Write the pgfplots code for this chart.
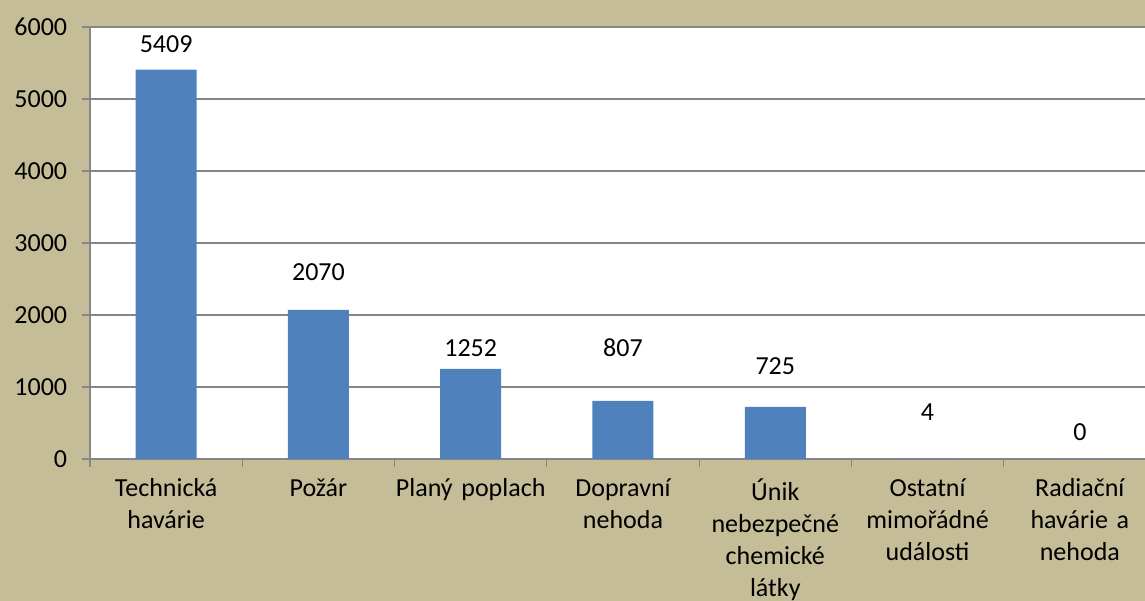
\documentclass[border=0pt]{standalone}
\usepackage{pgfplots}
\pgfplotsset{compat=1.18}
\usepackage{fontspec}
\setmainfont{Carlito}
\definecolor{bgtan}{RGB}{196,189,151}
\definecolor{barblue}{RGB}{79,129,189}
\definecolor{gridgray}{RGB}{134,134,134}
\begin{document}
\fontsize{26}{32}\selectfont
\begin{tikzpicture}
\fill[bgtan] (0,0) rectangle (1145pt,601pt);
\useasboundingbox (0,0) rectangle (1145pt,601pt);
\begin{axis}[
  at={(90pt,142pt)}, anchor=south west,
  scale only axis, width=1066pt, height=432pt,
  xmin=-0.5, xmax=6.5, ymin=0, ymax=6000,
  axis background/.style={fill=white},
  axis line style={draw=gridgray, line width=1.2pt},
  ymajorgrids, grid style={draw=gridgray, line width=1.2pt},
  ytick={0,1000,...,6000},
  xtick={0,...,6},
  xticklabels={{Technická\\havárie},{Požár},{Planý poplach},{Dopravní\\nehoda},{Únik\\nebezpečné\\chemické\\látky},{Ostatní\\mimořádné\\události},{Radiační\\havárie a\\nehoda}},
  minor xtick={-0.5,0.5,...,6.5},
  tick align=outside, xtick pos=bottom, ytick pos=left,
  major tick length=8pt, minor tick length=8pt,
  tick style={draw=gridgray, line width=1.2pt},
  major x tick style={draw=none},
  ticklabel style={font=\fontsize{26}{32}\selectfont, text=black},
  xticklabel style={align=center, text width=160pt, anchor=north, yshift=-3pt},
  yticklabel style={xshift=-6pt},
  /pgf/number format/assume math mode=true,
  /pgf/number format/1000 sep={},
  scaled y ticks=false,
]
\addplot[ybar, bar width=61pt, fill=barblue, draw=none] table {
x y
0 5409
1 2070
2 1252
3 807
4 725
5 4
6 0
};
\addplot[draw=none, mark=none, nodes near coords, point meta=explicit symbolic,
  nodes near coords style={anchor=center, font=\fontsize{26}{32}\selectfont, text=black}] table[meta=lab] {
x y lab
0 5764 5409
1 2597 2070
2 1542 1252
3 1542 807
4 1292 725
5 653 4
6 375 0
};
\end{axis}
\end{tikzpicture}
\end{document}
